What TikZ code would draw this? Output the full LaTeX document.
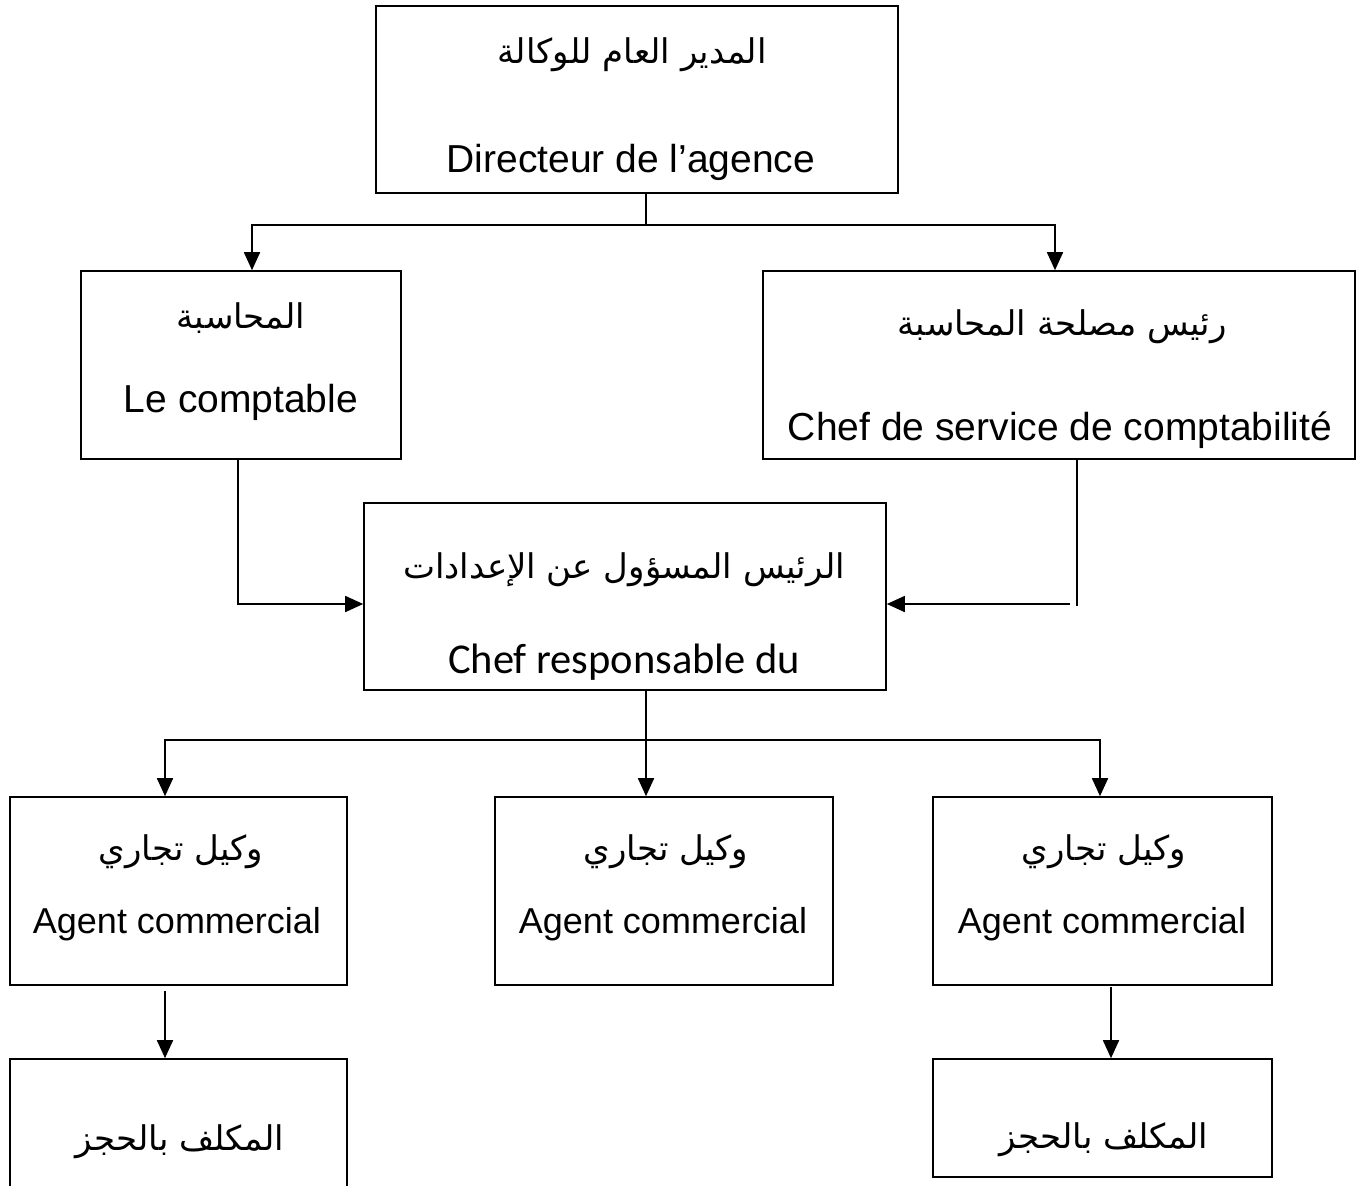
\documentclass[tikz,border=0pt]{standalone}
\usepackage{fontspec}
\setmainfont{Liberation Sans}
\newfontfamily\arabicfont[Script=Arabic]{DejaVu Sans}
\newfontfamily\calibfont{Carlito}
\TeXXeTstate=1
\usetikzlibrary{arrows.meta}
\begin{document}
\begin{tikzpicture}[x=1bp,y=-1bp,
  box/.style={draw=black,line width=1.6bp,rectangle,inner sep=0pt},
  link/.style={draw=black,line width=1.7bp},
  arr/.style={link,-{Triangle[length=18bp,width=16bp]}},
  fr/.style={anchor=base,inner sep=0pt,font=\fontsize{36bp}{40bp}\selectfont},
  frbig/.style={anchor=base,inner sep=0pt,font=\fontsize{39bp}{44bp}\selectfont},
  ar/.style={anchor=base,inner sep=0pt,font=\fontsize{34bp}{38bp}\selectfont\arabicfont},
  cal/.style={anchor=base,inner sep=0pt,font=\fontsize{42.5bp}{46bp}\selectfont\calibfont}]
\useasboundingbox (0,0) rectangle (1368,1185);
\clip (0,0) rectangle (1368,1185);

% boxes
\node[box,minimum width=522bp,minimum height=187bp] (dir)  at (637,99.5) {};
\node[box,minimum width=320bp,minimum height=188bp] (acct) at (241,365) {};
\node[box,minimum width=592bp,minimum height=188bp] (csvc) at (1059,365) {};
\node[box,minimum width=522bp,minimum height=187bp] (prep) at (625,596.5) {};
\node[box,minimum width=337bp,minimum height=188bp] (ag1) at (178.5,891) {};
\node[box,minimum width=338bp,minimum height=188bp] (ag2) at (664,891) {};
\node[box,minimum width=339bp,minimum height=188bp] (ag3) at (1102.5,891) {};
\node[box,minimum width=337bp,minimum height=136bp] (res1) at (178.5,1127) {};
\node[box,minimum width=339bp,minimum height=118bp] (res2) at (1102.5,1118) {};

% labels
\node[ar] (dirAr) at (632,63) {\beginR المدير العام للوكالة\endR};
\node[frbig] (dirFr) at (631,172) {Directeur de l’agence};
\node[ar] (acctAr) at (241,328) {\beginR المحاسبة\endR};
\node[frbig] (acctFr) at (241,412) {Le comptable};
\node[ar] (csvcAr) at (1062,335) {\beginR رئيس مصلحة المحاسبة\endR};
\node[frbig] (csvcFr) at (1060,440) {Chef de service de comptabilité};
\node[ar] (prepAr) at (624,578) {\beginR الرئيس المسؤول عن الإعدادات\endR};
\node[cal] (prepFr) at (624,673) {Chef responsable du};
\node[ar] (ag1Ar) at (181,860) {\beginR وكيل تجاري\endR};
\node[fr] (ag1Fr) at (177,933) {Agent commercial};
\node[ar] (ag2Ar) at (666,860) {\beginR وكيل تجاري\endR};
\node[fr] (ag2Fr) at (663,933) {Agent commercial};
\node[ar] (ag3Ar) at (1104,860) {\beginR وكيل تجاري\endR};
\node[fr] (ag3Fr) at (1102,933) {Agent commercial};
\node[ar] (res1Ar) at (180,1150) {\beginR المكلف بالحجز\endR};
\node[ar] (res2Ar) at (1104,1148) {\beginR المكلف بالحجز\endR};

% bus under the director
\coordinate (busT) at (646,225);
\coordinate (busTL) at (252,225);
\coordinate (busTR) at (1055,225);
\draw[link] (dir.south -| busT) -- (busT);
\draw[arr] (busT) -- (busTL) -- (acct.north -| busTL);
\draw[arr] (busT) -- (busTR) -- (csvc.north -| busTR);

% feeds into the preparation chief
\coordinate (lk) at (238,604);
\draw[arr] (acct.south -| lk) -- (lk) -- (prep.west |- lk);
\coordinate (rk) at (1077,606);
\coordinate (rh) at (1070,604);
\draw[line width=1.1bp] (csvc.south -| rk) -- (rk);
\draw[arr] (rh) -- (prep.east |- rh);

% bus under the preparation chief
\coordinate (busM) at (646,740);
\coordinate (busML) at (165,740);
\coordinate (busMR) at (1100,740);
\draw[link] (prep.south -| busM) -- (busM);
\draw[arr] (busM) -- (ag2.north -| busM);
\draw[arr] (busM) -- (busML) -- (ag1.north -| busML);
\draw[arr] (busM) -- (busMR) -- (ag3.north -| busMR);

% agents to reservation staff
\coordinate (dl) at (165,991);
\coordinate (dr) at (1111,987);
\draw[arr] (dl) -- (res1.north -| dl);
\draw[arr] (dr) -- (res2.north -| dr);
\end{tikzpicture}
\end{document}
